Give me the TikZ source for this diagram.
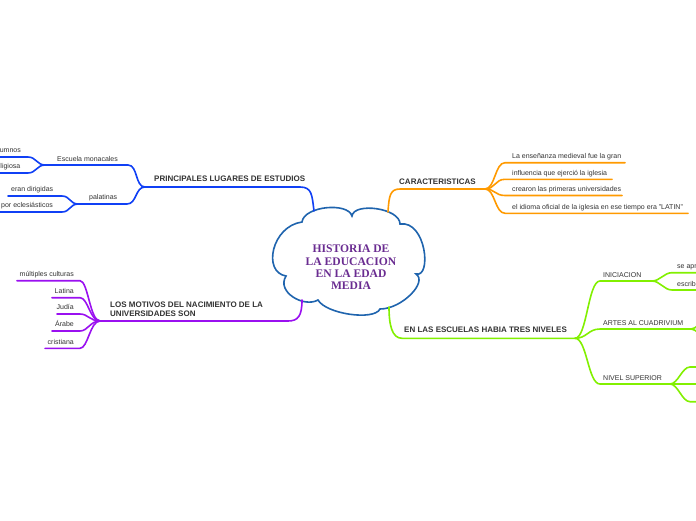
\documentclass[tikz,border=0pt]{standalone}
\usepackage{fontspec}
\setmainfont{Liberation Sans}
\newfontfamily\cloudfont{Liberation Serif}
\definecolor{cblue}{HTML}{1040F5}
\definecolor{corange}{HTML}{FF9A00}
\definecolor{cpurple}{HTML}{9A10F0}
\definecolor{cgreen}{HTML}{82F000}
\definecolor{ccloud}{HTML}{1F64AE}
\definecolor{ctitle}{HTML}{6A2C91}
\definecolor{txt}{HTML}{333333}
\tikzset{
  br/.style={line width=1.6pt, line cap=round},
  lbl/.style={font=\fontsize{8}{9.3}\selectfont\bfseries, text=txt, inner sep=0pt, anchor=base west},
  leafw/.style={font=\fontsize{7}{8}\selectfont, text=txt, inner sep=0pt, anchor=base west},
  leafe/.style={font=\fontsize{7}{8}\selectfont, text=txt, inner sep=0pt, anchor=base east},
}
\begin{document}
\begin{tikzpicture}[x=1pt,y=-1pt]
\useasboundingbox (0,0) rectangle (696,520);
\clip (0,0) rectangle (696,520);
\fill[white] (0,0) rectangle (696,520);

% ---------- cloud ----------
\coordinate (P1) at (302,222);
\coordinate (P2) at (352,216);
\coordinate (P3) at (400,224);
\coordinate (P4) at (416,274);
\coordinate (P5) at (380,309);
\coordinate (P6) at (318,300);
\coordinate (P7) at (286,276);
\draw[ccloud, line width=1.6pt, fill=white]
  (P1) .. controls +(2,-16) and +(-4,-14) .. (P2)
       .. controls +(2,-14) and +(0,-16) .. (P3)
       .. controls +(26,-4) and +(16,4) .. (P4)
       .. controls +(12,8) and +(22,0) .. (P5)
       .. controls +(-6,12) and +(8,14) .. (P6)
       .. controls +(-14,8) and +(-10,16) .. (P7)
       .. controls +(-24,-4) and +(-30,4) .. (P1) -- cycle;
\node[font=\cloudfont\fontsize{11.6}{12.3}\selectfont\bfseries, text=ctitle, align=center, inner sep=0pt] (root) at (351,267.5)
  {HISTORIA DE\\LA EDUCACION\\EN LA EDAD\\MEDIA};

% ---------- blue branch ----------
\coordinate (B0) at (314,211);
\coordinate (B1) at (300,187);
\coordinate (B2) at (145,187);
\coordinate (E1) at (128,165);
\coordinate (E)  at (45,165);
\coordinate (Ea) at (28,157);
\coordinate (Eae) at (-5,157);
\coordinate (Eb) at (28,173);
\coordinate (Ebe) at (-5,173);
\coordinate (Pa1) at (127,204);
\coordinate (Pa) at (78,204);
\coordinate (Pb1) at (62,196);
\coordinate (Pb1e) at (8,196);
\coordinate (Pb2) at (62,212);
\coordinate (Pb2e) at (-5,212);
\draw[br, cblue] (B0) .. controls +(-2,-16) and +(12,0) .. (B1) -- (B2);
\draw[br, cblue] (B2) .. controls +(-10,0) and +(10,0) .. (E1) -- (E);
\draw[br, cblue] (E) .. controls +(-8,0) and +(8,0) .. (Ea) -- (Eae);
\draw[br, cblue] (E) .. controls +(-8,0) and +(8,0) .. (Eb) -- (Ebe);
\draw[br, cblue] (B2) .. controls +(-10,0) and +(10,0) .. (Pa1) -- (Pa);
\draw[br, cblue] (Pa) .. controls +(-8,0) and +(8,0) .. (Pb1) -- (Pb1e);
\draw[br, cblue] (Pa) .. controls +(-8,0) and +(8,0) .. (Pb2) -- (Pb2e);
\node[lbl] (tB) at (154,181.3) {PRINCIPALES LUGARES DE ESTUDIOS};
\node[leafw] (tE) at (57,161) {Escuela monacales};
\node[leafe] (tEa) at (21,152.7) {umnos};
\node[leafe] (tEb) at (20.5,168.7) {ligiosa};
\node[leafw] (tPa) at (89,199.7) {palatinas};
\node[leafw] (tPb1) at (11,191.7) {eran dirigidas};
\node[leafw] (tPb2) at (1,207.7) {por eclesiásticos};

% ---------- orange branch ----------
\coordinate (O0) at (388,212);
\coordinate (O1) at (400,189);
\coordinate (O2) at (485,189);
\coordinate (Oa) at (505,162.7);  \coordinate (Oae) at (625,162.7);
\coordinate (Ob) at (505,179.3);  \coordinate (Obe) at (612,179.3);
\coordinate (Oc) at (505,195.5);  \coordinate (Oce) at (622,195.5);
\coordinate (Od) at (505,213.3);  \coordinate (Ode) at (688,213.3);
\draw[br, corange] (O0) .. controls +(1,-16) and +(-10,0) .. (O1) -- (O2);
\draw[br, corange] (O2) .. controls +(10,0) and +(-10,0) .. (Oa) -- (Oae);
\draw[br, corange] (O2) .. controls +(10,0) and +(-10,0) .. (Ob) -- (Obe);
\draw[br, corange] (O2) .. controls +(10,0) and +(-10,0) .. (Oc) -- (Oce);
\draw[br, corange] (O2) .. controls +(10,0) and +(-10,0) .. (Od) -- (Ode);
\node[lbl] (tO) at (399,184.6) {CARACTERISTICAS};
\node[leafw] (tOa) at (512,158.6) {La enseñanza medieval fue la gran};
\node[leafw] (tOb) at (512,175.2) {influencia que ejerció la iglesia};
\node[leafw] (tOc) at (512,191.4) {crearon las primeras universidades};
\node[leafw] (tOd) at (512,209.2) {el idioma oficial de la iglesia en ese tiempo era "LATIN"};

% ---------- purple branch ----------
\coordinate (U0) at (302,300);
\coordinate (U1) at (288,321);
\coordinate (U2) at (100,321);
\coordinate (Ua) at (80,280.7);  \coordinate (Uae) at (17,280.7);
\coordinate (Ub) at (80,297.7);  \coordinate (Ube) at (52,297.7);
\coordinate (Uc) at (80,314);    \coordinate (Uce) at (57,314);
\coordinate (Ud) at (80,331);    \coordinate (Ude) at (52,331);
\coordinate (Ue) at (80,348.3);  \coordinate (Uee) at (45,348.3);
\draw[br, cpurple] (U0) .. controls +(0,16) and +(10,0) .. (U1) -- (U2);
\draw[br, cpurple] (U2) .. controls +(-10,0) and +(8,0) .. (Ua) -- (Uae);
\draw[br, cpurple] (U2) .. controls +(-10,0) and +(8,0) .. (Ub) -- (Ube);
\draw[br, cpurple] (U2) .. controls +(-10,0) and +(8,0) .. (Uc) -- (Uce);
\draw[br, cpurple] (U2) .. controls +(-10,0) and +(8,0) .. (Ud) -- (Ude);
\draw[br, cpurple] (U2) .. controls +(-10,0) and +(8,0) .. (Ue) -- (Uee);
\node[lbl, align=left] (tU) at (110,316.3) {LOS MOTIVOS DEL NACIMIENTO DE LA\\UNIVERSIDADES SON};
\node[leafe] (tUa) at (74,276.6) {múltiples culturas};
\node[leafe] (tUb) at (74,293.6) {Latina};
\node[leafe] (tUc) at (74,309.9) {Judía};
\node[leafe] (tUd) at (74,326.9) {Árabe};
\node[leafe] (tUe) at (74,344.2) {cristiana};

% ---------- green branch ----------
\coordinate (G0) at (389,307);
\coordinate (G1) at (402,338.3);
\coordinate (G2) at (575,338.3);
\coordinate (Ga) at (600,281);  \coordinate (I) at (652,281);
\coordinate (Gb) at (600,329);  \coordinate (A) at (691,329);
\coordinate (Gc) at (600,384);  \coordinate (N) at (670,384);
\coordinate (Ia) at (672,272.7); \coordinate (Iae) at (705,272.7);
\coordinate (Ib) at (672,290);   \coordinate (Ibe) at (705,290);
\coordinate (Na) at (690,367);   \coordinate (Nae) at (705,367);
\coordinate (Nb) at (690,384);   \coordinate (Nbe) at (705,384);
\coordinate (Nc) at (690,401.7); \coordinate (Nce) at (705,401.7);
\coordinate (Aa) at (705,322);   \coordinate (Ab) at (705,336);
\draw[br, cgreen] (G0) .. controls +(0,18) and +(-10,0) .. (G1) -- (G2);
\draw[br, cgreen] (G2) .. controls +(12,0) and +(-12,0) .. (Ga) -- (I);
\draw[br, cgreen] (G2) .. controls +(12,0) and +(-12,0) .. (Gb) -- (A);
\draw[br, cgreen] (G2) .. controls +(12,0) and +(-12,0) .. (Gc) -- (N);
\draw[br, cgreen] (I) .. controls +(8,0) and +(-8,0) .. (Ia) -- (Iae);
\draw[br, cgreen] (I) .. controls +(8,0) and +(-8,0) .. (Ib) -- (Ibe);
\draw[br, cgreen] (N) .. controls +(8,0) and +(-8,0) .. (Na) -- (Nae);
\draw[br, cgreen] (N) -- (Nb) -- (Nbe);
\draw[br, cgreen] (N) .. controls +(8,0) and +(-8,0) .. (Nc) -- (Nce);
\draw[br, cgreen] (A) .. controls +(5,0) and +(-5,0) .. (Aa);
\draw[br, cgreen] (A) .. controls +(5,0) and +(-5,0) .. (Ab);
\node[lbl] (tG) at (404,332.9) {EN LAS ESCUELAS HABIA TRES NIVELES};
\node[leafw] (tI) at (603,277) {INICIACION};
\node[leafw] (tA) at (603,325) {ARTES AL CUADRIVIUM};
\node[leafw] (tN) at (603,380.8) {NIVEL SUPERIOR};
\node[leafw] (tIa) at (677,268.8) {se apr};
\node[leafw] (tIb) at (677,286.2) {escrib};
\end{tikzpicture}
\end{document}
